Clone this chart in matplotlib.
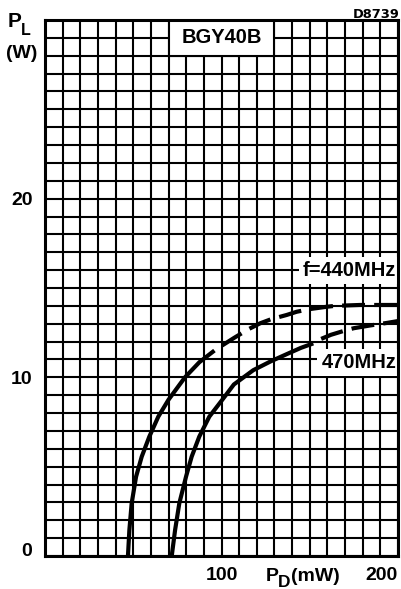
import matplotlib
matplotlib.use("Agg")
import matplotlib.pyplot as plt
from matplotlib.patches import Rectangle
import numpy as np

# P_D (mW) vs P_L (W)
x440 = [47, 47.8, 49.1, 51.6, 54.8, 59.1, 64.2, 70, 79.3, 87.5, 96]
y440 = [0, 1.45, 2.95, 4.44, 5.56, 6.68, 7.8, 8.75, 10.0, 10.85, 11.5]
x440_dash = [96, 99.2, 107, 115.2, 121.8, 128, 136.9, 142.6, 150, 159.6, 163.3, 170, 178.5, 190, 200]
y440_dash = [11.5, 11.71, 12.2, 12.69, 13.02, 13.25, 13.49, 13.67, 13.82, 13.95, 13.99, 14.02, 14.05, 14.05, 14.05]

x470 = [71.8, 73.7, 76.1, 79.9, 83.1, 87.4, 93.1, 100.5, 107, 118, 128, 137, 145, 152]
y470 = [0, 1.45, 2.95, 4.44, 5.56, 6.68, 7.8, 8.75, 9.6, 10.4, 10.9, 11.3, 11.65, 11.9]
x470_dash = [152, 154, 162, 171, 175, 184, 194, 200]
y470_dash = [11.9, 12.05, 12.38, 12.65, 12.75, 12.9, 13.05, 13.15]

xticks = [100, 200]
yticks = [0, 10, 20]

font = "Liberation Sans"

fig = plt.figure(figsize=(4.01, 5.89), dpi=100)
ax = fig.add_axes([45 / 401, 33 / 589, 353 / 401, 536 / 589])
ax.set_xlim(0, 200)
ax.set_ylim(0, 30)
ax.set_axisbelow(True)

ax.set_xticks(xticks)
ax.set_yticks(yticks)
ax.set_xticks(np.arange(0, 201, 10), minor=True)
ax.set_yticks(np.arange(0, 31, 1), minor=True)
ax.grid(which="both", color="black", linewidth=1.5)
ax.tick_params(which="both", length=0)
ax.tick_params(axis="x", pad=8)
ax.tick_params(axis="y", pad=9)
for lab in ax.get_xticklabels() + ax.get_yticklabels():
    lab.set_fontfamily(font)
    lab.set_fontweight("bold")
    lab.set_fontsize(14)
ax.get_xticklabels()[-1].set_ha("right")
ax.get_yticklabels()[0].set_va("baseline")
for s in ax.spines.values():
    s.set_linewidth(2.2)

lw = 3.0
dash = (5.5, (5.5, 2.2))
ax.plot(x440, y440, color="black", lw=lw, solid_capstyle="butt")
ax.plot(x440_dash, y440_dash, color="black", lw=lw, linestyle=dash, dash_capstyle="butt")
ax.plot(x470, y470, color="black", lw=lw, solid_capstyle="butt")
ax.plot(x470_dash, y470_dash, color="black", lw=lw, linestyle=dash, dash_capstyle="butt")

# title box sits on the grid
ax.add_patch(Rectangle((70, 28), 60, 2, facecolor="white", edgecolor="black",
                       linewidth=1.5, zorder=1))
ax.text(100, 29, "BGY40B", ha="center", va="center", fontfamily=font,
        fontweight="bold", fontsize=14.5, zorder=1.2)

box = dict(boxstyle="square,pad=0.2", facecolor="white", edgecolor="none")
ax.text(199, 16.0, "f=440MHz", ha="right", va="center", fontfamily=font,
        fontweight="bold", fontsize=14.5, bbox=box, zorder=1)
ax.text(199, 10.85, "470MHz", ha="right", va="center", fontfamily=font,
        fontweight="bold", fontsize=14.5, bbox=box, zorder=1)

# axis labels
fig.text(8 / 401, 1 - 27 / 589, "P", fontfamily=font, fontweight="bold", fontsize=15,
         va="baseline")
fig.text(21 / 401, 1 - 35 / 589, "L", fontfamily=font, fontweight="bold", fontsize=11.5,
         va="baseline")
fig.text(6 / 401, 1 - 58 / 589, "(W)", fontfamily=font, fontweight="bold", fontsize=14,
         va="baseline")

fig.text(266 / 401, 1 - 581 / 589, "P", fontfamily=font, fontweight="bold", fontsize=14,
         va="baseline")
fig.text(278 / 401, 1 - 587 / 589, "D", fontfamily=font, fontweight="bold", fontsize=12.5,
         va="baseline")
fig.text(291 / 401, 1 - 581 / 589, "(mW)", fontfamily=font, fontweight="bold", fontsize=14,
         va="baseline")

fig.text(400 / 401, 1 - 18 / 589, "D8739", fontfamily="DejaVu Sans", fontweight="bold",
         fontsize=9.4, ha="right", va="baseline")

fig.savefig("out.png", dpi=100)
